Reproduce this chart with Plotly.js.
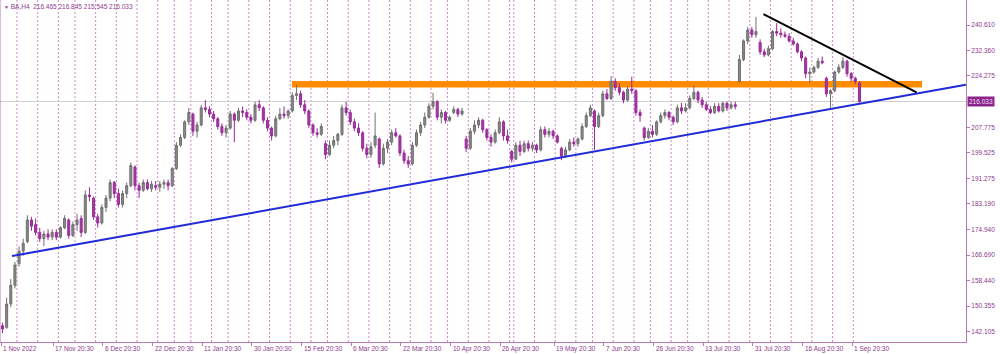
<!DOCTYPE html>
<html>
<head>
<meta charset="utf-8">
<script src="https://cdn.plot.ly/plotly-3.0.1.min.js"></script>
<style>
html,body{margin:0;padding:0;background:#fff;}
#chart{width:1000px;height:354px;}
</style>
</head>
<body>
<div id="chart"></div>
<script>
// ---- Trading days (broker calendar, H4 chart shown as one candle per session) ----
const tradingDays = [
  ['2022-11', [1,2,3,4,7,8,9,10,11,14,15,16,17,18,21,22,23,25,28,29,30]],
  ['2022-12', [1,2,5,6,7,8,9,12,13,14,15,16,19,20,21,22,23,27,28,29,30]],
  ['2023-01', [3,4,5,6,9,10,11,12,13,17,18,19,20,23,24,25,26,27,30,31]],
  ['2023-02', [1,2,3,6,7,8,9,10,13,14,15,16,17,21,22,23,24,27,28]],
  ['2023-03', [1,2,3,6,7,8,9,10,13,14,15,16,17,20,21,22,23,24,27,28,29,30,31]],
  ['2023-04', [3,4,5,6,10,11,12,13,14,17,18,19,20,21,24,25,26,27,28]],
  ['2023-05', [5,8,9,10,11,12,15,16,17,18,19,22,23,24,25,26,30,31]],
  ['2023-06', [1,2,5,6,7,8,9,12,13,14,15,16,20,21,22,23,26,27,28,29,30]],
  ['2023-07', [3,5,6,7,10,11,12,13,14,17,18,19,20,21,24,25,26,27,28,31]],
  ['2023-08', [1,2,3,4,7,8,9,10,11,14,15,16,17,18,21,22,23,24,25,28,29,30,31]],
  ['2023-09', [1,5,6]]
];

// ---- OHLC values (BA) ----
const open = [144,143.5,151,157,164,168,171,178,176.5,174,172,173.5,172.5,174,172.5,175.5,178,173,176.5,178.5,
174,186,185,179,177,182,185,190,186.5,183,186.5,189,195,189,187.5,190,188,189,188.5,189.5,
190,189,194.5,202,204.5,209.5,212,206.5,208.5,214,213.5,212,210.5,208,206,207.5,212,210,213,212.5,
211,210,215,214,210,207.5,205,210.5,212,211.5,213,218,218.5,215,213,208.5,206,205.5,202.5,199,
202,203.5,205.5,214,212.5,209.5,207.5,206,201,199,202,204,196,201,203,206,205,199.5,197,196,
202,206,208.5,211,214.5,216,211,212.5,210,212.5,213.5,212,204,201,206.5,208.5,210,207,204.5,203,
206,209.5,205,200,197.5,202,200,202.5,201,202,200.5,207,205.5,206.5,205,201,198.5,200.5,203,202.5,
204,208,211.5,213,208,211.5,218.5,217,222.5,220.5,219,216.5,220,219.5,212.5,207.5,204.5,206.5,205.5,209.5,
211.5,212.5,211,209.5,214,213,214,217,219,216.5,215,213.5,212.5,214.5,213,215.5,214,215,222.5,229.5,
235.5,239,237.5,235,232,231,233,238.5,238,237.5,237,235.5,234.5,232,230,225,225.5,227,229,223.5,
218.5,219.5,225.5,227,229,225,223.5,222];
const high = [145,153,159,164.5,169.5,172,179.5,179,178.5,175.5,174.5,175,175,175,176,179.5,178.5,177.5,180,179.5,
187.5,188.5,185.5,180,183,186,191,190.5,188,187.5,190,196.5,195.5,190,191,191,190.5,190.5,190.5,191,
191,195,203,205.5,210,214,212.5,209.5,215,216.5,214.5,213,211,209,208.5,213,212.5,214,214.5,213.5,
212,216,216.5,214.5,211,208,211.5,214,214.5,213.5,219,221.4,219.5,216.5,213.5,209,207.5,209,203.5,203.5,
205,206,215,216,213.5,210.5,209,206.5,202.5,203,212.5,204.5,202.5,204,207,207.5,205.5,200.5,198.5,203,
207,209.5,212.5,215.5,218.8,216.5,213.5,213,211.5,214.5,214,214,205,207.5,210,211,210.5,207.5,205.5,207,
211,210,207,200.5,203,203.5,203.5,203.5,203,202.5,208,208,207.5,207,205.5,201.5,201.5,204,204.5,204.5,
209,212.5,215,213.5,212.5,219.5,220,224.2,223.5,222,219.5,221,224,220,213.5,208,207.5,208.5,210,212.5,
213.5,213,211.5,215,215.6,215.5,218,221.3,219.5,217.5,216,214.5,215.5,215.5,216,216,216,216,231,236,
240,240,243.2,236,233,234,239,241.2,239.5,238.5,238,236.5,235,232.5,230.5,227,227.5,230,230.5,224,
220,226,228,230.3,229.5,225.5,224,222.5];
const low = [141.6,143,150,156,163,166.5,170.5,174.5,173,171,169.6,171.5,171.5,171.5,172,175,172,172.5,174.5,172.5,
173.5,184,178,175.5,176.5,180.5,184,185,182,182,185,188.5,187.5,185,187,187.5,187,187.5,187,188,
187.5,188.5,194,201.5,204,208.5,205,204.5,208,212.5,211,209.5,207,205,204.5,207,203,209.5,211,210,
209,209.5,213,209,206.5,203.5,204.5,210,210.5,210.5,212.5,216.5,214,212,207.5,205,204.5,205,197.5,198.5,
201,202,205,211.5,208.5,206.5,205,200,197.8,198,201,194.7,195.5,199.5,202,204.5,198.5,196,194.7,195.5,
201.5,205,207.5,210.5,213.5,210,209,209,209.5,212,211,211.5,199.8,200.5,205.5,207.5,206,203.5,201.5,202.5,
205.5,203.5,202.5,196.5,197.5,198.5,199.5,200,200,199.5,200,204.5,204.5,204,202.5,197.2,198,200,201.5,201.5,
203.5,207.5,211,200.5,207.5,211,216.5,216.5,219.5,218,215.5,216,218.5,211.5,209.5,203.5,204,204.5,205,209,
210.5,210,208.5,209,212,212.5,213.5,216.5,215.5,214,213,212,212,212.5,212.5,213,213.5,213.5,222,229,
234.5,236.5,236.5,231,230.3,230.5,232.5,237,236.5,236.5,235,234,231.5,229,223.5,222,225,226.5,228,217.5,
214,219,225,226.5,224,222.5,221.5,215.5];
const close = [143,151,157,163.5,168,170.5,178,176,174,172,173.5,172.5,174,172.5,175.5,178.5,173,176.5,178,174,
186,185.5,179,177,182,185,190,186.5,183,186.5,189,195.5,189,187.5,190,188,189.5,188.5,189.5,190,
189,194.5,202,204.5,209.5,212.5,206.5,208.5,214,213.5,212,210.5,208,206,207.5,212,210,213,212.5,211,
210,215,214,210,207.5,205,210.5,212,211.5,213,218,218.5,215,213,208.5,206,205.5,208,199,202,
203.5,205.5,214,212.5,209.5,207.5,206,201,199,201.5,205,196,201,203,206,205,199.5,197,196,202,
206,208.5,211,214.5,216,211,212.5,210,211,213.5,212,213,201,206.5,208.5,210,207,204.5,203,206,
209.5,205,203.5,197.5,202,200,202.5,201,202,200.5,207,205.5,206.5,205,203,198.5,200.5,203,202.5,204,
208,211.5,214,208,211.5,218.5,217,222.5,220.5,219,216.5,220,219.5,212.5,211.5,204.5,206.5,205.5,209.5,211.5,
212.5,211,209.5,214,213,214,217,219,216.5,215,213.5,212.5,214.5,213,215.5,214,215,214.5,229.5,235.5,
239,237.5,238.5,232,231,233,238.5,238,237.5,237,235.5,234.5,232,230,225,225.5,227,229,228.5,218.5,
219.5,225.5,227,229,225,223.5,222.5,216.033];

// ---- Axis tick values / labels ----
const priceTicks = [240.610,232.360,224.275,207.775,199.525,191.275,183.190,174.940,166.690,158.440,150.355,142.105];
const labelDates = ['2022-11-01','2022-11-17','2022-12-06','2022-12-22','2023-01-11','2023-01-30','2023-02-15',
  '2023-03-06','2023-03-22','2023-04-10','2023-04-26','2023-05-19','2023-06-07','2023-06-26','2023-07-13',
  '2023-07-31','2023-08-16','2023-09-01'];
const labelText = ['1 Nov 2022','17 Nov 20:30','6 Dec 20:30','22 Dec 20:30','11 Jan 20:30','30 Jan 20:30','15 Feb 20:30',
  '6 Mar 20:30','22 Mar 20:30','10 Apr 20:30','26 Apr 20:30','19 May 20:30','7 Jun 20:30','26 Jun 20:30','13 Jul 20:30',
  '31 Jul 20:30','16 Aug 20:30','1 Sep 20:30'];
const header = 'BA,H4  216.465 216.845 215.545 216.033';

// ---- Analyst drawings (date-bar position, price) ----
const supportLine = {x:[2.3, 232.7], y:[166.4, 221.45]};
const resistanceLine = {x:[183.8, 220.8], y:[244.1, 219.0]};
const zone = {x:[69.9, 222.1], y:221.6};

// ---- build ----
const dates = [];
tradingDays.forEach(([m, ds]) => ds.forEach(d => dates.push(m + '-' + String(d).padStart(2,'0'))));
const idx = dates.map((_, i) => i);

const seps = [];
for (let i = 1; i < dates.length; i++) {
  const a = new Date(dates[i-1] + 'T00:00:00Z'), b = new Date(dates[i] + 'T00:00:00Z');
  if (b.getUTCDay() <= a.getUTCDay() || (b - a) >= 7 * 864e5) seps.push(i - 0.5);
}

const FONT = 'Liberation Sans, Arial, sans-serif';
const TXT = '#8e3a8e';
const AX = '#b77ab7';
const labelX = labelDates.map((d, k) => dates.indexOf(d) + (k === 0 ? -0.25 : 0.25));

const shapes = [];
seps.forEach(s => shapes.push({type:'line', xref:'x', yref:'paper', x0:s, x1:s, y0:0, y1:1,
  line:{color:'#c98ac9', width:1, dash:'2px,2px'}, layer:'below'}));
const last = close[close.length - 1];
shapes.push({type:'line', xref:'paper', yref:'y', x0:0, x1:1, y0:last, y1:last,
  line:{color:'#d0d0d0', width:1}, layer:'below'});
shapes.push({type:'line', xref:'x', yref:'y', x0:zone.x[0], x1:zone.x[1], y0:zone.y, y1:zone.y,
  line:{color:'#ff8c00', width:6.5}, layer:'below'});
shapes.push({type:'line', xref:'x', yref:'y', x0:supportLine.x[0], x1:supportLine.x[1], y0:supportLine.y[0], y1:supportLine.y[1],
  line:{color:'#1f2bd8', width:2}, layer:'above'});
shapes.push({type:'line', xref:'x', yref:'y', x0:resistanceLine.x[0], x1:resistanceLine.x[1], y0:resistanceLine.y[0], y1:resistanceLine.y[1],
  line:{color:'#000000', width:2}, layer:'above'});
shapes.push({type:'line', xref:'paper', yref:'paper', x0:0, x1:0, y0:0, y1:1, line:{color:AX, width:1}});

const annotations = labelX.map((x, k) => ({
  x:x, y:0, xref:'x', yref:'paper', xanchor:'left', yanchor:'top', yshift:-1, xshift:0,
  text:labelText[k], showarrow:false, font:{family:FONT, size:6.5, color:TXT}
}));
annotations.push({x:0, y:1, xref:'paper', yref:'paper', xanchor:'left', yanchor:'top', xshift:2, yshift:-1,
  text:'<span style="font-size:5px">▼</span> ' + header, showarrow:false, font:{family:FONT, size:6.5, color:TXT}});
annotations.push({x:1, y:last, xref:'paper', yref:'y', xanchor:'left', yanchor:'middle', xshift:1,
  text:last.toFixed(3), showarrow:false, bgcolor:'#8a268a', borderpad:1,
  font:{family:FONT, size:6.5, color:'#f2dcf2'}});

const trace = {
  type:'candlestick', x:idx, open:open, high:high, low:low, close:close,
  increasing:{line:{color:'#6f6f6f', width:1}, fillcolor:'#8a8a8a'},
  decreasing:{line:{color:'#9a2a9a', width:1}, fillcolor:'#a23aa2'},
  whiskerwidth:0, hoverinfo:'skip', showlegend:false
};

const layout = {
  width:1000, height:354,
  margin:{l:0, r:34, t:0, b:12, pad:0},
  paper_bgcolor:'#ffffff', plot_bgcolor:'#ffffff',
  showlegend:false,
  xaxis:{range:[-0.604, 232.73], showgrid:false, zeroline:false, showline:true, linecolor:AX, linewidth:1,
    tickvals:labelX, ticks:'outside', ticklen:3, tickcolor:AX, showticklabels:false,
    rangeslider:{visible:false}, fixedrange:true},
  yaxis:{side:'right', range:[138.80, 248.64], tickvals:priceTicks, tickformat:'.3f', ticks:'outside', ticklen:3,
    tickcolor:AX, tickfont:{family:FONT, size:6.5, color:TXT}, showline:true, linecolor:AX, linewidth:1,
    showgrid:false, zeroline:false, fixedrange:true},
  shapes:shapes,
  annotations:annotations
};

Plotly.newPlot('chart', [trace], layout, {staticPlot:true, displayModeBar:false});
</script>
</body>
</html>
